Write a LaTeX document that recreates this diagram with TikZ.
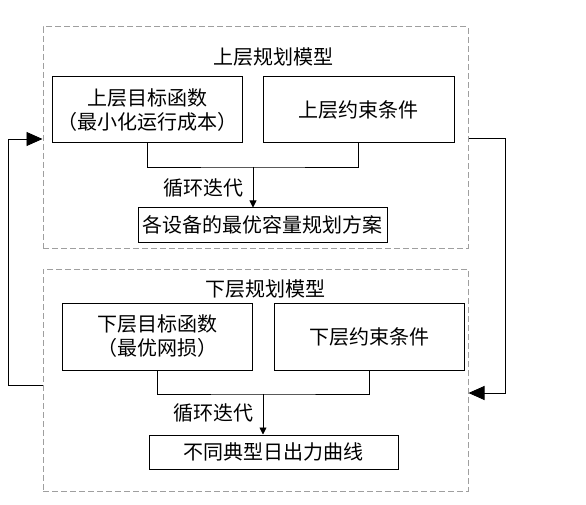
\documentclass[tikz,border=0pt]{standalone}
\usepackage{fontspec}
\setmainfont{Noto Sans CJK SC}
\usetikzlibrary{arrows.meta}
\begin{document}
\begin{tikzpicture}[x=1pt,y=-1pt,
  every node/.style={font=\fontsize{20}{24}\selectfont, inner sep=0pt, align=center},
  box/.style={draw=black, line width=1pt},
  grp/.style={draw=gray!75, line width=1pt, dash pattern=on 6pt off 3pt},
  link/.style={draw=black, line width=0.9pt},
  bigarrow/.style={link, -{Triangle[length=16pt,width=14pt]}},
  smallarrow/.style={link, -{Triangle[length=7pt,width=7pt]}}]
\useasboundingbox (0,0) rectangle (586,505);
% groups
\node[grp, minimum width=425pt, minimum height=221pt] (upper) at (255.5,137.5) {};
\node[grp, minimum width=425pt, minimum height=222pt] (lower) at (255.5,380) {};
\node (ut) at (273,57) {上层规划模型};
\node (lt) at (265,289) {下层规划模型};
% upper boxes
\node[box, minimum width=190pt, minimum height=66pt] (A) at (147,110) {上层目标函数\\（最小化运行成本）};
\node[box, minimum width=191pt, minimum height=66pt] (B) at (358.5,110) {上层约束条件};
\node[box, minimum width=249pt, minimum height=34pt] (C) at (262.5,225) {各设备的最优容量规划方案};
% lower boxes
\node[box, minimum width=190pt, minimum height=67pt] (D) at (157,336.5) {下层目标函数\\（最优网损）};
\node[box, minimum width=190pt, minimum height=67pt] (E) at (369,336.5) {下层约束条件};
\node[box, minimum width=249pt, minimum height=34pt] (F) at (273.5,452) {不同典型日出力曲线};
% upper connectors
\coordinate (j1) at (253,167);
\draw[link] (A.south) |- (j1) -| (B.south);
\draw[smallarrow] (j1) -- (j1 |- C.north);
\node (it1) at (203,188) {循环迭代};
% lower connectors
\coordinate (j2) at (263,394);
\draw[link] (D.south) |- (j2) -| (E.south);
\draw[smallarrow] (j2) -- (j2 |- F.north);
\node (it2) at (213,413) {循环迭代};
% feedback loops
\coordinate (la) at (8,385);
\coordinate (lb) at (8,139);
\coordinate (ra) at (505,138);
\coordinate (rb) at (505,393);
\draw[bigarrow] (lower.west |- la) -- (la) -- (lb) -- (upper.west |- lb);
\draw[bigarrow] (upper.east |- ra) -- (ra) -- (rb) -- (lower.east |- rb);
\end{tikzpicture}
\end{document}
